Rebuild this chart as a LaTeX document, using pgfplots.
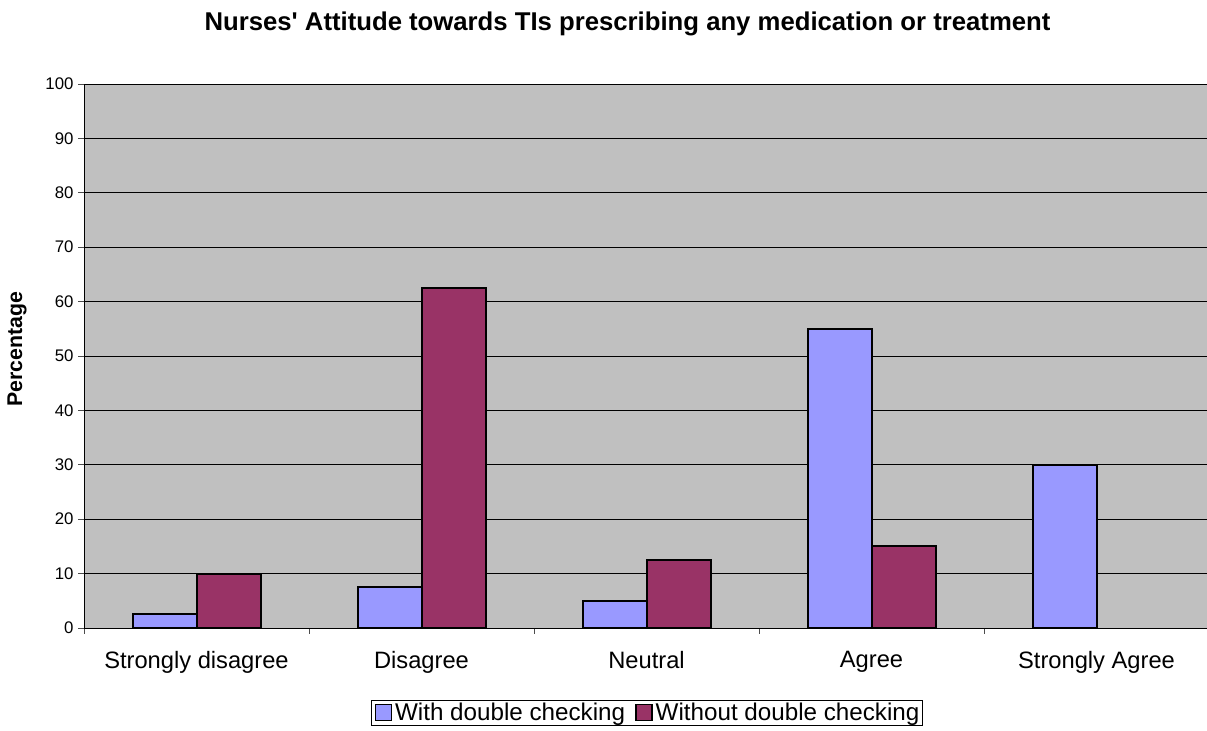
\documentclass[border=0pt]{standalone}
\usepackage{pgfplots}
\pgfplotsset{compat=1.18}
\usepackage{fontspec}
\setmainfont{Liberation Sans}
\definecolor{cblue}{HTML}{9999FF}
\definecolor{cred}{HTML}{993366}
\definecolor{cgray}{HTML}{C0C0C0}
\begin{document}
\begin{tikzpicture}[x=1bp,y=1bp]
\useasboundingbox (0,0) rectangle (1207,731);
\begin{axis}[
  at={(84bp,103bp)}, anchor=south west,
  scale only axis, width=1123bp, height=544bp,
  xmin=-0.5, xmax=4.491, ymin=0, ymax=100,
  ybar=0pt, bar width=64bp,
  axis lines*=left,
  axis background/.style={fill=cgray},
  axis line style={black, line width=0.9bp},
  ymajorgrids, grid style={black, line width=0.8bp},
  ytick={0,10,...,100},
  xtick={0,1,2,3,4},
  xticklabels={Strongly disagree,Disagree,Neutral,Agree,Strongly Agree},
  minor xtick={-0.5,0.5,1.5,2.5,3.5},
  major x tick style={draw=none},
  minor tick length=6bp, major tick length=6bp,
  tick align=outside,
  tick style={black!70, line width=0.9bp},
  /pgf/number format/assume math mode=true,
  yticklabel style={font=\fontsize{16.8bp}{19bp}\selectfont, xshift=-1bp},
  xticklabel style={font=\fontsize{23.7bp}{28bp}\selectfont, yshift=-14bp},
  ylabel={\bfseries Percentage},
  ylabel style={font=\fontsize{21.3bp}{25bp}\selectfont, at={(axis description cs:-0.0597,0.512)}, anchor=center},
  title={\bfseries Nurses\textquotesingle\ Attitude towards TIs prescribing any medication or treatment},
  title style={font=\fontsize{25.7bp}{30bp}\selectfont, at={(axis description cs:0.484,1.10)}, anchor=center},
  legend style={at={(axis description cs:0.5013,-0.1553)}, anchor=center, legend columns=2,
    font=\fontsize{24.2bp}{28bp}\selectfont, draw=black, line width=0.8bp,
    inner sep=3bp, nodes={inner sep=0bp},
    /tikz/every odd column/.append style={column sep=3bp},
    /tikz/every even column/.append style={column sep=10bp}},
  legend image code/.code={\draw[#1, draw=black, line width=1.6bp] (0bp,-8bp) rectangle (16bp,8bp);},
]
\addplot[fill=cblue, draw=black, line width=2bp] coordinates {(0,2.5) (1,7.5) (2,5) (3,55) (4,30)};
\addplot[fill=cred, draw=black, line width=2bp] coordinates {(0,10) (1,62.5) (2,12.5) (3,15)};
\legend{With double checking,Without double checking}
\end{axis}
\end{tikzpicture}
\end{document}
